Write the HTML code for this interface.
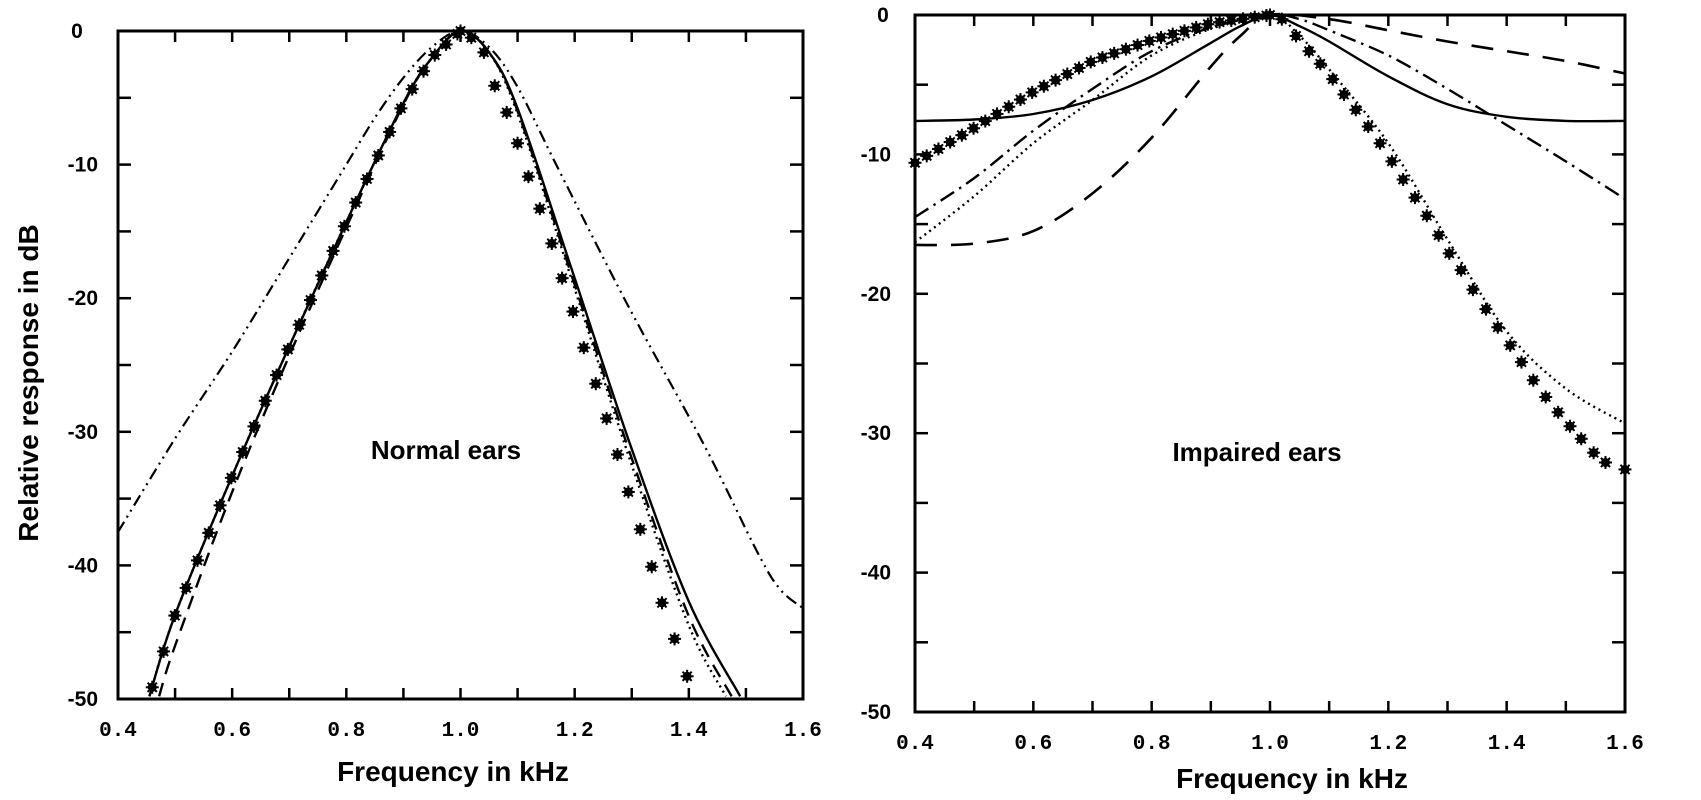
<!DOCTYPE html>
<html><head><meta charset="utf-8"><style>
html,body{margin:0;padding:0;background:#fff;}
svg{display:block;}
text{font-family:"Liberation Sans",sans-serif;font-weight:bold;fill:#000;}
.tk{font-family:"Liberation Mono",monospace;font-size:21px;}
.yl{font-size:21px;}
</style></head><body>
<svg id="s" width="1701" height="800" viewBox="0 0 1701 800" xmlns="http://www.w3.org/2000/svg">
<rect width="1701" height="800" fill="#fff"/>
<g id="g"></g>
<text x="453" y="781" font-size="28" text-anchor="middle">Frequency in kHz</text>
<text x="1292" y="788" font-size="28" text-anchor="middle">Frequency in kHz</text>
<text transform="translate(38,383) rotate(-90)" font-size="28" text-anchor="middle">Relative response in dB</text>
<text x="446" y="459" font-size="26" text-anchor="middle">Normal ears</text>
<text x="1257" y="461" font-size="26" text-anchor="middle">Impaired ears</text>
</svg>
<script>
var NS="http://www.w3.org/2000/svg",G=document.getElementById('g');
function el(t,a,txt){var e=document.createElementNS(NS,t);for(var k in a)e.setAttribute(k,a[k]);if(txt!==undefined)e.textContent=txt;G.appendChild(e);return e;}
function P(x0,x1,y0,y1){return {X:function(f){return x0+(f-0.4)/1.2*(x1-x0);},Y:function(d){return y0+(-d)/50*(y1-y0);},x0:x0,x1:x1,y0:y0,y1:y1};}
var L=P(118,803,31,699), R=P(915,1625,15,712);
function frame(p,lab){
 el('rect',{x:p.x0,y:p.y0,width:p.x1-p.x0,height:p.y1-p.y0,fill:'none',stroke:'#000','stroke-width':3});
 for(var i=0;i<=12;i++){var x=p.X(0.4+i*0.1);
  el('line',{x1:x,y1:p.y1,x2:x,y2:p.y1-11,stroke:'#000','stroke-width':2.5});
  el('line',{x1:x,y1:p.y0,x2:x,y2:p.y0+11,stroke:'#000','stroke-width':2.5});
  if(i%2==0) el('text',{x:x,y:lab.xy,'text-anchor':'middle','class':'tk'},(0.4+i*0.1).toFixed(1));}
 for(var d=0;d>=-50;d-=5){var y=p.Y(d);
  el('line',{x1:p.x0,y1:y,x2:p.x0+13,y2:y,stroke:'#000','stroke-width':2.5});
  el('line',{x1:p.x1,y1:y,x2:p.x1-13,y2:y,stroke:'#000','stroke-width':2.5});
  if(d%10==0){ if(d==0) el('text',{x:lab.z,y:y+7,'text-anchor':'middle','class':'yl'},'0');
   else el('text',{x:lab.ye,y:y+7,'text-anchor':'end','class':'yl'},'-'+(-d));}}
}
frame(L,{xy:736,z:77,ye:98});
frame(R,{xy:749,z:883,ye:891});
function path(p,pts){var q=pts.map(function(a){return [p.X(a[0]),p.Y(a[1])];});
 var s='M'+q[0][0].toFixed(1)+' '+q[0][1].toFixed(1);
 for(var i=0;i<q.length-1;i++){var a=q[i-1]||q[i],b=q[i],c=q[i+1],d=q[i+2]||c;
  s+=' C'+(b[0]+(c[0]-a[0])/6).toFixed(1)+' '+(b[1]+(c[1]-a[1])/6).toFixed(1)+' '+(c[0]-(d[0]-b[0])/6).toFixed(1)+' '+(c[1]-(d[1]-b[1])/6).toFixed(1)+' '+c[0].toFixed(1)+' '+c[1].toFixed(1);}
 return s;}
function line(p,pts,dash,w){el('path',{d:path(p,pts),fill:'none',stroke:'#000','stroke-width':w||2.2,'stroke-dasharray':dash||'none','stroke-linecap':'butt'});}
function interp(pts,f){for(var i=0;i<pts.length-1;i++)if(f>=pts[i][0]&&f<=pts[i+1][0]){var t=(f-pts[i][0])/(pts[i+1][0]-pts[i][0]);return pts[i][1]+t*(pts[i+1][1]-pts[i][1]);}return null;}
function star(x,y){el('circle',{cx:x,cy:y,r:4.5,fill:'#000'});
 for(var k=0;k<4;k++){var a=k*Math.PI/4;el('line',{x1:x-6.5*Math.cos(a),y1:y-6.5*Math.sin(a),x2:x+6.5*Math.cos(a),y2:y+6.5*Math.sin(a),stroke:'#000','stroke-width':2});}}
// LEFT
var solidL=[[0.455,-49.8],[0.5,-43.7],[0.6,-33.3],[0.7,-23.6],[0.8,-14.3],[0.9,-5.4],[0.95,-2],[1.0,0],[1.05,-1.6],[1.1,-5.8],[1.2,-18.5],[1.3,-31.3],[1.4,-42.7],[1.49,-49.8]];
var dashL=[[0.472,-49.8],[0.5,-46],[0.6,-34.5],[0.7,-24.3],[0.8,-14.7],[0.9,-5.5],[0.95,-2],[1.0,0],[1.05,-1.6],[1.1,-6],[1.2,-19],[1.3,-32],[1.4,-43.8],[1.475,-49.8]];
var dotL=[[0.455,-49.8],[0.5,-43.7],[0.6,-33.3],[0.7,-23.6],[0.8,-14.3],[0.9,-5.4],[0.95,-2],[1.0,0],[1.05,-1.6],[1.1,-6.2],[1.2,-19.3],[1.3,-32.5],[1.4,-44.5],[1.465,-49.8]];
var ddL=[[0.4,-37.5],[0.5,-30.5],[0.6,-24],[0.7,-17],[0.75,-13.5],[0.8,-10],[0.85,-6.5],[0.9,-3.5],[0.95,-1.2],[1.0,0],[1.05,-1.2],[1.1,-4.2],[1.17,-10.2],[1.294,-20.6],[1.427,-31],[1.52,-39],[1.56,-41.8],[1.6,-43.2]];
line(L,solidL,null,2.4);
line(L,dashL,'14 9',2.4);
line(L,dotL,'2 4',2.4);
line(L,ddL,'12 5 2 5 2 5',2.2);
for(var f=0.46;f<1.0;f+=0.0198){star(L.X(f),L.Y(interp(solidL,f)));}
[[1.0,0],[1.019,-0.5],[1.041,-1.6],[1.06,-4.1],[1.081,-6.1],[1.1,-8.4],[1.119,-10.9],[1.139,-13.3],[1.16,-15.9],[1.178,-18.5],[1.197,-21],[1.216,-23.7],[1.237,-26.4],[1.256,-29],[1.275,-31.7],[1.294,-34.5],[1.315,-37.3],[1.335,-40.1],[1.353,-42.8],[1.375,-45.5],[1.397,-48.3]].forEach(function(a){star(L.X(a[0]),L.Y(a[1]));});
// RIGHT
var solidR=[[0.4,-7.6],[0.5,-7.5],[0.6,-7.1],[0.7,-6.1],[0.8,-4.4],[0.9,-2],[0.95,-0.8],[1.0,0],[1.05,-0.8],[1.1,-1.9],[1.2,-4.4],[1.3,-6.4],[1.4,-7.3],[1.5,-7.6],[1.6,-7.6]];
var dashR=[[0.4,-16.5],[0.5,-16.4],[0.6,-15.5],[0.7,-12.8],[0.8,-8.8],[0.9,-3.7],[0.95,-1.5],[1.0,0],[1.1,-0.3],[1.2,-1.1],[1.3,-1.9],[1.4,-2.6],[1.5,-3.3],[1.6,-4.2]];
var ddR=[[0.4,-14.5],[0.5,-11.7],[0.6,-8.3],[0.7,-5.3],[0.8,-2.6],[0.9,-0.9],[1.0,0],[1.05,-0.3],[1.1,-1.1],[1.2,-2.9],[1.3,-5.3],[1.4,-7.9],[1.5,-10.5],[1.6,-13.2]];
var dotR=[[0.4,-16.3],[0.5,-13],[0.6,-9.2],[0.7,-6.1],[0.8,-2.9],[0.9,-1],[1.0,0],[1.05,-1.5],[1.1,-3.9],[1.2,-9.2],[1.3,-16.1],[1.4,-22.7],[1.5,-26.8],[1.6,-29.3]];
line(R,solidR,null,2.4);
line(R,dashR,'22 14',2.6);
line(R,ddR,'16 6 2.5 6',2.4);
line(R,dotR,'2 4',2.4);
var astL=[[0.4,-10.6],[0.5,-8.1],[0.6,-5.5],[0.7,-3.3],[0.8,-1.8],[0.9,-0.6],[1.0,0]];
for(var f=0.4;f<1.0;f+=0.0198){star(R.X(f),R.Y(interp(astL,f)));}
[[1.0,0],[1.02,-0.3],[1.044,-1.5],[1.066,-2.6],[1.085,-3.5],[1.106,-4.6],[1.125,-5.7],[1.145,-6.8],[1.166,-8],[1.186,-9.2],[1.206,-10.5],[1.225,-11.8],[1.245,-13.1],[1.265,-14.4],[1.285,-15.8],[1.303,-17.1],[1.323,-18.3],[1.343,-19.7],[1.365,-21.1],[1.385,-22.4],[1.406,-23.7],[1.425,-24.9],[1.445,-26.2],[1.466,-27.4],[1.487,-28.5],[1.507,-29.5],[1.526,-30.4],[1.547,-31.4],[1.567,-32.1],[1.6,-32.6]].forEach(function(a){star(R.X(a[0]),R.Y(a[1]));});
</script>
</body></html>
